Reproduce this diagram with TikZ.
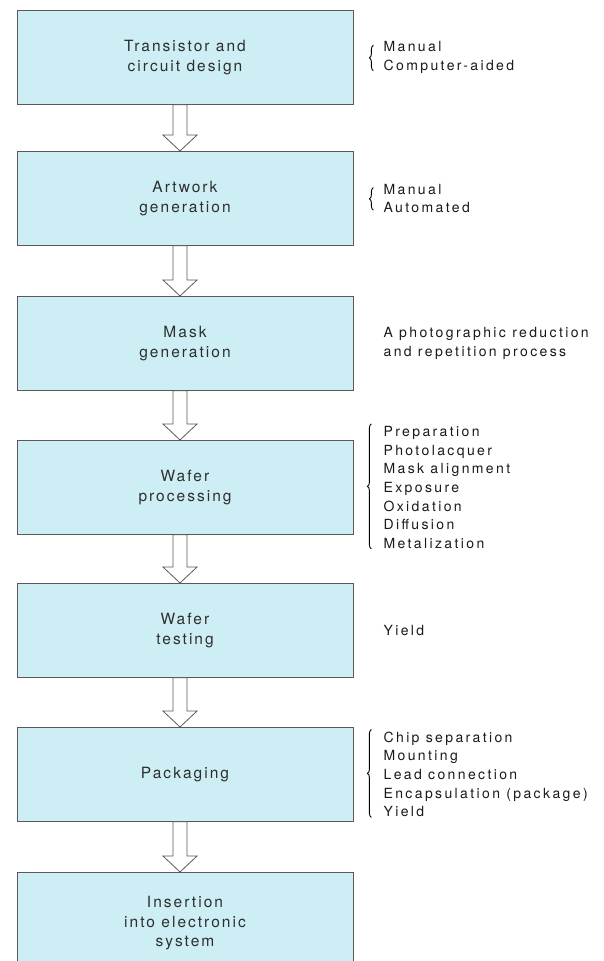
\documentclass[tikz,border=0pt]{standalone}
\usepackage{fontspec}
\setmainfont{TeX Gyre Heros}
\usetikzlibrary{decorations.pathreplacing,calc,positioning}
\usepackage{xcolor}
\newcommand{\myunit}{1pt}
\newcommand{\stagefont}{\fontsize{15.5}{19.5}\selectfont\addfontfeature{LetterSpace=13}}
\newcommand{\notefont}{\fontsize{14}{18.7}\selectfont\addfontfeature{LetterSpace=17}}
\tikzset{
    stagesty/.style={draw=edgegray,fill=stagecyan,rectangle,minimum width=336*\myunit,minimum height=94*\myunit,line width=0.8pt,align=center,font=\stagefont,text=inkgray,anchor=north},
    notesty/.style={anchor=west,align=left,font=\notefont,inner sep=0pt,text=black!90},
    bracesty/.style={decorate,decoration={brace,amplitude=4pt},line width=0.9pt},
    flowsty/.style={draw=edgegray,fill=white,line width=0.8pt,line join=miter},
}
\definecolor{stagecyan}{RGB}{205,238,244}
\colorlet{edgegray}{black!65}
\colorlet{inkgray}{black!82}

\begin{document}
\begin{tikzpicture}[x=\myunit,y=-\myunit]
\useasboundingbox (0,0) rectangle (603,961);

% stages
\node[stagesty] (s1) at (185,10)  {Transistor and\\circuit design};
\node[stagesty] (s2) at (185,151) {Artwork\\generation};
\node[stagesty] (s3) at (185,296) {Mask\\generation};
\node[stagesty] (s4) at (185,440) {Wafer\\processing};
\node[stagesty] (s5) at (185,583) {Wafer\\testing};
\node[stagesty] (s6) at (185,727) {Packaging};
\node[stagesty, minimum height=102*\myunit] (s7) at (185,872) {Insertion\\into electronic\\system};

% notes
\node[notesty, right=30pt of s1] (t1) {Manual\\Computer-aided};
\node[notesty, right=30pt of s2] (t2) {Manual\\Automated};
\node[notesty, right=30pt of s3] (t3) {A photographic reduction\\and repetition process};
\node[notesty, right=30pt of s4] (t4) {Preparation\\Photolacquer\\Mask alignment\\Exposure\\Oxidation\\Diffusion\\Metalization};
\node[notesty, right=30pt of s5] (t5) {Yield};
\node[notesty, right=30pt of s6] (t6) {Chip separation\\Mounting\\Lead connection\\Encapsulation (package)\\Yield};

\draw[bracesty] ($(t1.south west)+(-10,-3)$) -- ($(t1.north west)+(-10,4)$);
\draw[bracesty] ($(t2.south west)+(-10,-3)$) -- ($(t2.north west)+(-10,4)$);
\draw[bracesty] ($(t4.south west)+(-12,0)$) -- ($(t4.north west)+(-12,-2)$);
\draw[bracesty] ($(t6.south west)+(-12,0)$) -- ($(t6.north west)+(-12,-2)$);

% hollow arrows
\foreach \a/\b in {s1/s2,s2/s3,s3/s4,s4/s5,s5/s6,s6/s7}
  \draw[flowsty] ($(\a.south)+(-12,0)$) -- ($(\b.north)+(-12,-16)$) -- ($(\b.north)+(-22,-16)$)
    -- ($(\b.north)+(-5,0)$) -- ($(\b.north)+(12,-16)$) -- ($(\b.north)+(2,-16)$)
    -- ($(\a.south)+(2,0)$) -- cycle;
\end{tikzpicture}
\end{document}
